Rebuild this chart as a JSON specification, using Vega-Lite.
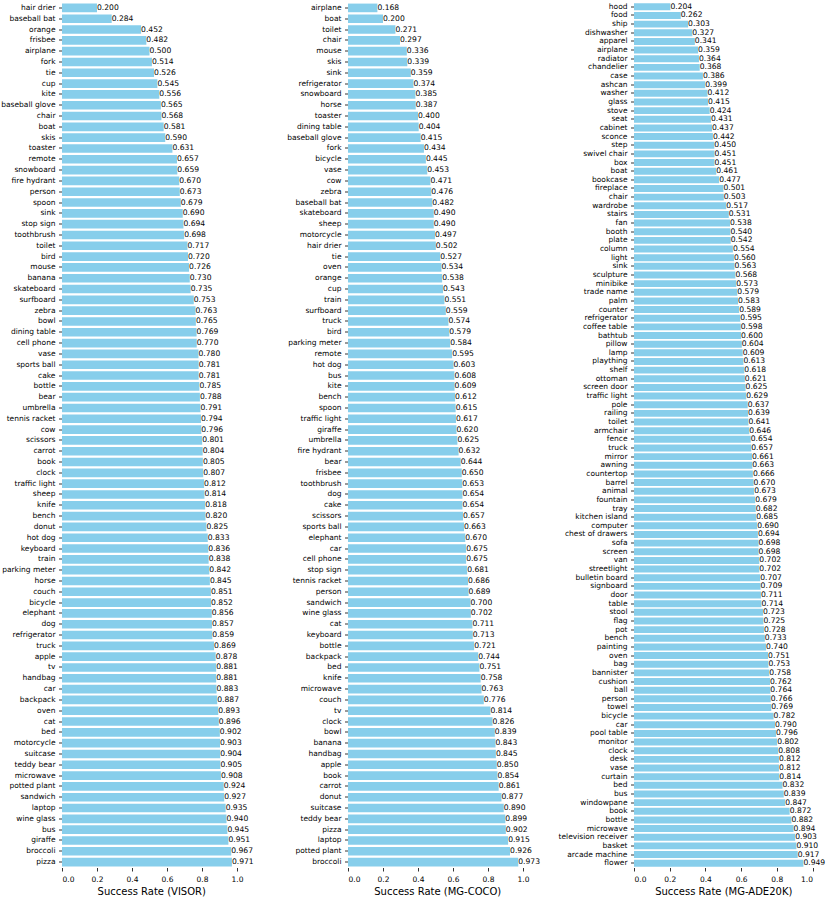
{
  "$schema": "https://vega.github.io/schema/vega-lite/v6.json",
  "padding": {"left": 0, "top": 1.5, "right": 0, "bottom": 0},
  "background": "white",
  "bounds": "flush",
  "spacing": 107,
  "config": {
    "view": {"stroke": null},
    "axis": {
      "domain": false, "grid": false, "ticks": true, "tickColor": "#000", "tickSize": 3.5, "tickWidth": 0.8,
      "labelFont": "DejaVu Sans", "labelFontSize": 7.5, "labelColor": "#000",
      "titleFont": "DejaVu Sans", "titleFontSize": 10, "titleFontWeight": "normal", "titleColor": "#000"
    },
    "axisY": {"labelPadding": 3.5},
    "axisX": {"labelPadding": 4, "titlePadding": 4}
  },
  "datasets": {
    "visor": [
      {"category": "hair drier", "rate": 0.200}, {"category": "baseball bat", "rate": 0.284}, {"category": "orange", "rate": 0.452}, {"category": "frisbee", "rate": 0.482}, {"category": "airplane", "rate": 0.500}, {"category": "fork", "rate": 0.514}, {"category": "tie", "rate": 0.526}, {"category": "cup", "rate": 0.545}, {"category": "kite", "rate": 0.556}, {"category": "baseball glove", "rate": 0.565},
      {"category": "chair", "rate": 0.568}, {"category": "boat", "rate": 0.581}, {"category": "skis", "rate": 0.590}, {"category": "toaster", "rate": 0.631}, {"category": "remote", "rate": 0.657}, {"category": "snowboard", "rate": 0.659}, {"category": "fire hydrant", "rate": 0.670}, {"category": "person", "rate": 0.673}, {"category": "spoon", "rate": 0.679}, {"category": "sink", "rate": 0.690},
      {"category": "stop sign", "rate": 0.694}, {"category": "toothbrush", "rate": 0.698}, {"category": "toilet", "rate": 0.717}, {"category": "bird", "rate": 0.720}, {"category": "mouse", "rate": 0.726}, {"category": "banana", "rate": 0.730}, {"category": "skateboard", "rate": 0.735}, {"category": "surfboard", "rate": 0.753}, {"category": "zebra", "rate": 0.763}, {"category": "bowl", "rate": 0.765},
      {"category": "dining table", "rate": 0.769}, {"category": "cell phone", "rate": 0.770}, {"category": "vase", "rate": 0.780}, {"category": "sports ball", "rate": 0.781}, {"category": "cake", "rate": 0.781}, {"category": "bottle", "rate": 0.785}, {"category": "bear", "rate": 0.788}, {"category": "umbrella", "rate": 0.791}, {"category": "tennis racket", "rate": 0.794}, {"category": "cow", "rate": 0.796},
      {"category": "scissors", "rate": 0.801}, {"category": "carrot", "rate": 0.804}, {"category": "book", "rate": 0.805}, {"category": "clock", "rate": 0.807}, {"category": "traffic light", "rate": 0.812}, {"category": "sheep", "rate": 0.814}, {"category": "knife", "rate": 0.818}, {"category": "bench", "rate": 0.820}, {"category": "donut", "rate": 0.825}, {"category": "hot dog", "rate": 0.833},
      {"category": "keyboard", "rate": 0.836}, {"category": "train", "rate": 0.838}, {"category": "parking meter", "rate": 0.842}, {"category": "horse", "rate": 0.845}, {"category": "couch", "rate": 0.851}, {"category": "bicycle", "rate": 0.852}, {"category": "elephant", "rate": 0.856}, {"category": "dog", "rate": 0.857}, {"category": "refrigerator", "rate": 0.859}, {"category": "truck", "rate": 0.869},
      {"category": "apple", "rate": 0.878}, {"category": "tv", "rate": 0.881}, {"category": "handbag", "rate": 0.881}, {"category": "car", "rate": 0.883}, {"category": "backpack", "rate": 0.887}, {"category": "oven", "rate": 0.893}, {"category": "cat", "rate": 0.896}, {"category": "bed", "rate": 0.902}, {"category": "motorcycle", "rate": 0.903}, {"category": "suitcase", "rate": 0.904},
      {"category": "teddy bear", "rate": 0.905}, {"category": "microwave", "rate": 0.908}, {"category": "potted plant", "rate": 0.924}, {"category": "sandwich", "rate": 0.927}, {"category": "laptop", "rate": 0.935}, {"category": "wine glass", "rate": 0.940}, {"category": "bus", "rate": 0.945}, {"category": "giraffe", "rate": 0.951}, {"category": "broccoli", "rate": 0.967}, {"category": "pizza", "rate": 0.971}
    ],
    "coco": [
      {"category": "airplane", "rate": 0.168}, {"category": "boat", "rate": 0.200}, {"category": "toilet", "rate": 0.271}, {"category": "chair", "rate": 0.297}, {"category": "mouse", "rate": 0.336}, {"category": "skis", "rate": 0.339}, {"category": "sink", "rate": 0.359}, {"category": "refrigerator", "rate": 0.374}, {"category": "snowboard", "rate": 0.385}, {"category": "horse", "rate": 0.387},
      {"category": "toaster", "rate": 0.400}, {"category": "dining table", "rate": 0.404}, {"category": "baseball glove", "rate": 0.415}, {"category": "fork", "rate": 0.434}, {"category": "bicycle", "rate": 0.445}, {"category": "vase", "rate": 0.453}, {"category": "cow", "rate": 0.471}, {"category": "zebra", "rate": 0.476}, {"category": "baseball bat", "rate": 0.482}, {"category": "skateboard", "rate": 0.490},
      {"category": "sheep", "rate": 0.490}, {"category": "motorcycle", "rate": 0.497}, {"category": "hair drier", "rate": 0.502}, {"category": "tie", "rate": 0.527}, {"category": "oven", "rate": 0.534}, {"category": "orange", "rate": 0.538}, {"category": "cup", "rate": 0.543}, {"category": "train", "rate": 0.551}, {"category": "surfboard", "rate": 0.559}, {"category": "truck", "rate": 0.574},
      {"category": "bird", "rate": 0.579}, {"category": "parking meter", "rate": 0.584}, {"category": "remote", "rate": 0.595}, {"category": "hot dog", "rate": 0.603}, {"category": "bus", "rate": 0.608}, {"category": "kite", "rate": 0.609}, {"category": "bench", "rate": 0.612}, {"category": "spoon", "rate": 0.615}, {"category": "traffic light", "rate": 0.617}, {"category": "giraffe", "rate": 0.620},
      {"category": "umbrella", "rate": 0.625}, {"category": "fire hydrant", "rate": 0.632}, {"category": "bear", "rate": 0.644}, {"category": "frisbee", "rate": 0.650}, {"category": "toothbrush", "rate": 0.653}, {"category": "dog", "rate": 0.654}, {"category": "cake", "rate": 0.654}, {"category": "scissors", "rate": 0.657}, {"category": "sports ball", "rate": 0.663}, {"category": "elephant", "rate": 0.670},
      {"category": "car", "rate": 0.675}, {"category": "cell phone", "rate": 0.675}, {"category": "stop sign", "rate": 0.681}, {"category": "tennis racket", "rate": 0.686}, {"category": "person", "rate": 0.689}, {"category": "sandwich", "rate": 0.700}, {"category": "wine glass", "rate": 0.702}, {"category": "cat", "rate": 0.711}, {"category": "keyboard", "rate": 0.713}, {"category": "bottle", "rate": 0.721},
      {"category": "backpack", "rate": 0.744}, {"category": "bed", "rate": 0.751}, {"category": "knife", "rate": 0.758}, {"category": "microwave", "rate": 0.763}, {"category": "couch", "rate": 0.776}, {"category": "tv", "rate": 0.814}, {"category": "clock", "rate": 0.826}, {"category": "bowl", "rate": 0.839}, {"category": "banana", "rate": 0.843}, {"category": "handbag", "rate": 0.845},
      {"category": "apple", "rate": 0.850}, {"category": "book", "rate": 0.854}, {"category": "carrot", "rate": 0.861}, {"category": "donut", "rate": 0.877}, {"category": "suitcase", "rate": 0.890}, {"category": "teddy bear", "rate": 0.899}, {"category": "pizza", "rate": 0.902}, {"category": "laptop", "rate": 0.915}, {"category": "potted plant", "rate": 0.926}, {"category": "broccoli", "rate": 0.973}
    ],
    "ade": [
      {"category": "hood", "rate": 0.204}, {"category": "food", "rate": 0.262}, {"category": "ship", "rate": 0.303}, {"category": "dishwasher", "rate": 0.327}, {"category": "apparel", "rate": 0.341}, {"category": "airplane", "rate": 0.359}, {"category": "radiator", "rate": 0.364}, {"category": "chandelier", "rate": 0.368}, {"category": "case", "rate": 0.386}, {"category": "ashcan", "rate": 0.399},
      {"category": "washer", "rate": 0.412}, {"category": "glass", "rate": 0.415}, {"category": "stove", "rate": 0.424}, {"category": "seat", "rate": 0.431}, {"category": "cabinet", "rate": 0.437}, {"category": "sconce", "rate": 0.442}, {"category": "step", "rate": 0.450}, {"category": "swivel chair", "rate": 0.451}, {"category": "box", "rate": 0.451}, {"category": "boat", "rate": 0.461},
      {"category": "bookcase", "rate": 0.477}, {"category": "fireplace", "rate": 0.501}, {"category": "chair", "rate": 0.503}, {"category": "wardrobe", "rate": 0.517}, {"category": "stairs", "rate": 0.531}, {"category": "fan", "rate": 0.538}, {"category": "booth", "rate": 0.540}, {"category": "plate", "rate": 0.542}, {"category": "column", "rate": 0.554}, {"category": "light", "rate": 0.560},
      {"category": "sink", "rate": 0.563}, {"category": "sculpture", "rate": 0.568}, {"category": "minibike", "rate": 0.573}, {"category": "trade name", "rate": 0.579}, {"category": "palm", "rate": 0.583}, {"category": "counter", "rate": 0.589}, {"category": "refrigerator", "rate": 0.595}, {"category": "coffee table", "rate": 0.598}, {"category": "bathtub", "rate": 0.600}, {"category": "pillow", "rate": 0.604},
      {"category": "lamp", "rate": 0.609}, {"category": "plaything", "rate": 0.613}, {"category": "shelf", "rate": 0.618}, {"category": "ottoman", "rate": 0.621}, {"category": "screen door", "rate": 0.625}, {"category": "traffic light", "rate": 0.629}, {"category": "pole", "rate": 0.637}, {"category": "railing", "rate": 0.639}, {"category": "toilet", "rate": 0.641}, {"category": "armchair", "rate": 0.646},
      {"category": "fence", "rate": 0.654}, {"category": "truck", "rate": 0.657}, {"category": "mirror", "rate": 0.661}, {"category": "awning", "rate": 0.663}, {"category": "countertop", "rate": 0.666}, {"category": "barrel", "rate": 0.670}, {"category": "animal", "rate": 0.673}, {"category": "fountain", "rate": 0.679}, {"category": "tray", "rate": 0.682}, {"category": "kitchen island", "rate": 0.685},
      {"category": "computer", "rate": 0.690}, {"category": "chest of drawers", "rate": 0.694}, {"category": "sofa", "rate": 0.698}, {"category": "screen", "rate": 0.698}, {"category": "van", "rate": 0.702}, {"category": "streetlight", "rate": 0.702}, {"category": "bulletin board", "rate": 0.707}, {"category": "signboard", "rate": 0.709}, {"category": "door", "rate": 0.711}, {"category": "table", "rate": 0.714},
      {"category": "stool", "rate": 0.723}, {"category": "flag", "rate": 0.725}, {"category": "pot", "rate": 0.728}, {"category": "bench", "rate": 0.733}, {"category": "painting", "rate": 0.740}, {"category": "oven", "rate": 0.751}, {"category": "bag", "rate": 0.753}, {"category": "bannister", "rate": 0.758}, {"category": "cushion", "rate": 0.762}, {"category": "ball", "rate": 0.764},
      {"category": "person", "rate": 0.766}, {"category": "towel", "rate": 0.769}, {"category": "bicycle", "rate": 0.782}, {"category": "car", "rate": 0.790}, {"category": "pool table", "rate": 0.796}, {"category": "monitor", "rate": 0.802}, {"category": "clock", "rate": 0.808}, {"category": "desk", "rate": 0.812}, {"category": "vase", "rate": 0.812}, {"category": "curtain", "rate": 0.814},
      {"category": "bed", "rate": 0.832}, {"category": "bus", "rate": 0.839}, {"category": "windowpane", "rate": 0.847}, {"category": "book", "rate": 0.872}, {"category": "bottle", "rate": 0.882}, {"category": "microwave", "rate": 0.894}, {"category": "television receiver", "rate": 0.903}, {"category": "basket", "rate": 0.910}, {"category": "arcade machine", "rate": 0.917}, {"category": "flower", "rate": 0.949}
    ]
  },
  "hconcat": [
    {
      "width": 178.5, "height": 865,
      "data": {"name": "visor"},
      "encoding": {
        "y": {"field": "category", "type": "nominal", "sort": null, "scale": {"paddingInner": 0.2, "paddingOuter": 0.1}, "axis": {"title": null}},
        "x": {"field": "rate", "type": "quantitative", "scale": {"domain": [0, 1.02], "nice": false}, "axis": {"title": "Success Rate (VISOR)", "values": [0, 0.2, 0.4, 0.6, 0.8, 1.0], "format": ".1f"}}
      },
      "layer": [
        {"mark": {"type": "bar", "color": "#87CEEB"}},
        {"mark": {"type": "text", "align": "left", "baseline": "middle", "font": "DejaVu Sans", "fontSize": 7.6, "color": "#000"}, "encoding": {"text": {"field": "rate", "type": "quantitative", "format": ".3f"}}}
      ]
    },
    {
      "width": 178.5, "height": 865,
      "data": {"name": "coco"},
      "encoding": {
        "y": {"field": "category", "type": "nominal", "sort": null, "scale": {"paddingInner": 0.2, "paddingOuter": 0.1}, "axis": {"title": null}},
        "x": {"field": "rate", "type": "quantitative", "scale": {"domain": [0, 1.02], "nice": false}, "axis": {"title": "Success Rate (MG-COCO)", "values": [0, 0.2, 0.4, 0.6, 0.8, 1.0], "format": ".1f"}}
      },
      "layer": [
        {"mark": {"type": "bar", "color": "#87CEEB"}},
        {"mark": {"type": "text", "align": "left", "baseline": "middle", "font": "DejaVu Sans", "fontSize": 7.6, "color": "#000"}, "encoding": {"text": {"field": "rate", "type": "quantitative", "format": ".3f"}}}
      ]
    },
    {
      "width": 178.5, "height": 865,
      "data": {"name": "ade"},
      "encoding": {
        "y": {"field": "category", "type": "nominal", "sort": null, "scale": {"paddingInner": 0.2, "paddingOuter": 0.1}, "axis": {"title": null}},
        "x": {"field": "rate", "type": "quantitative", "scale": {"domain": [0, 1.0], "nice": false}, "axis": {"title": "Success Rate (MG-ADE20K)", "values": [0, 0.2, 0.4, 0.6, 0.8, 1.0], "format": ".1f"}}
      },
      "layer": [
        {"mark": {"type": "bar", "color": "#87CEEB"}},
        {"mark": {"type": "text", "align": "left", "baseline": "middle", "font": "DejaVu Sans", "fontSize": 7.6, "color": "#000"}, "encoding": {"text": {"field": "rate", "type": "quantitative", "format": ".3f"}}}
      ]
    }
  ]
}
